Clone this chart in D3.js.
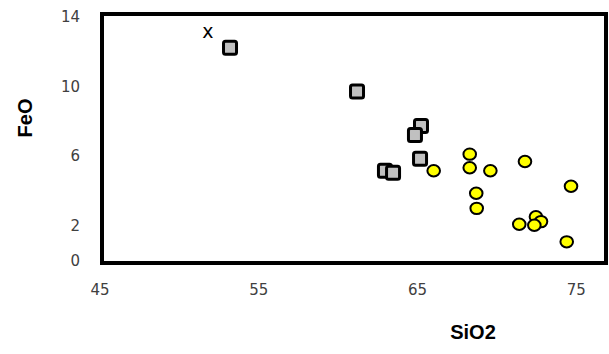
<!DOCTYPE html>
<html>
<head>
<meta charset="utf-8">
<script src="https://cdn.jsdelivr.net/npm/d3@7"></script>
<style>
  body { margin: 0; background: #fff; }
  svg { display: block; }
</style>
</head>
<body>
<div id="chart"></div>
<script>
// --- data ---
const squareSiO2 = [53.19, 61.19, 65.22, 64.84, 65.16, 62.95, 63.46];
const squareFeO  = [12.24, 9.73, 7.74, 7.23, 5.86, 5.18, 5.07];

const circleSiO2 = [66.02, 68.29, 68.29, 69.59, 71.77, 74.67, 68.70, 68.73, 71.41, 72.46, 72.78, 72.36, 74.40];
const circleFeO  = [5.18, 6.13, 5.35, 5.18, 5.71, 4.29, 3.89, 3.02, 2.11, 2.54, 2.26, 2.05, 1.10];

const crossSiO2 = [51.8];
const crossFeO  = [13.09];

const xTicks = [45, 55, 65, 75];
const yTicks = [0, 2, 6, 10, 14];

const W = 609, H = 354;

const svg = d3.select("#chart").append("svg")
  .attr("width", W)
  .attr("height", H);

const x = d3.scaleLinear().domain([45, 77]).range([100, 608]);
const y = d3.scaleLinear().domain([0, 14]).range([261, 17]);

const tickFont = "'DejaVu Sans', Verdana, sans-serif";
const titleFont = "'Liberation Sans', Arial, sans-serif";

// --- plot frame ---
svg.append("rect")
  .attr("x", 102).attr("y", 14)
  .attr("width", 504).attr("height", 249)
  .attr("fill", "none")
  .attr("stroke", "#000")
  .attr("stroke-width", 4);

// --- tick labels ---
svg.selectAll(".ylab")
  .data(yTicks)
  .join("text")
  .attr("class", "ylab")
  .attr("x", 80)
  .attr("y", d => y(d))
  .attr("text-anchor", "end")
  .attr("dominant-baseline", "central")
  .style("font-family", tickFont)
  .style("font-size", "15px")
  .style("fill", "#404040")
  .text(d => d);

svg.selectAll(".xlab")
  .data(xTicks)
  .join("text")
  .attr("class", "xlab")
  .attr("x", d => x(d))
  .attr("y", 290)
  .attr("text-anchor", "middle")
  .attr("dominant-baseline", "central")
  .style("font-family", tickFont)
  .style("font-size", "15px")
  .style("fill", "#404040")
  .text(d => d);

// --- axis titles ---
svg.append("text")
  .attr("transform", "translate(25,118) rotate(-90)")
  .attr("text-anchor", "middle")
  .attr("dominant-baseline", "central")
  .style("font-family", titleFont)
  .style("font-size", "20px")
  .style("font-weight", "bold")
  .style("fill", "#000")
  .text("FeO");

svg.append("text")
  .attr("x", 473)
  .attr("y", 332)
  .attr("text-anchor", "middle")
  .attr("dominant-baseline", "central")
  .style("font-family", titleFont)
  .style("font-size", "20px")
  .style("font-weight", "bold")
  .style("fill", "#000")
  .text("SiO2");

// --- square series ---
const sq = 13;
svg.selectAll(".sq")
  .data(d3.zip(squareSiO2, squareFeO))
  .join("rect")
  .attr("class", "sq")
  .attr("x", d => x(d[0]) - sq / 2)
  .attr("y", d => y(d[1]) - sq / 2)
  .attr("width", sq).attr("height", sq)
  .attr("rx", 2)
  .attr("fill", "#c0c0c0")
  .attr("stroke", "#000")
  .attr("stroke-width", 3);

// --- circle series ---
svg.selectAll(".ci")
  .data(d3.zip(circleSiO2, circleFeO))
  .join("ellipse")
  .attr("class", "ci")
  .attr("cx", d => x(d[0]))
  .attr("cy", d => y(d[1]))
  .attr("rx", 6.3).attr("ry", 5.7)
  .attr("fill", "#ffff00")
  .attr("stroke", "#000")
  .attr("stroke-width", 2);

// --- x marker ---
svg.selectAll(".cx")
  .data(d3.zip(crossSiO2, crossFeO))
  .join("text")
  .attr("class", "cx")
  .attr("x", d => x(d[0]))
  .attr("y", d => y(d[1]))
  .attr("dy", "0.27em")
  .attr("text-anchor", "middle")
  .style("font-family", tickFont)
  .style("font-size", "19px")
  .style("fill", "#000")
  .text("x");
</script>
</body>
</html>
